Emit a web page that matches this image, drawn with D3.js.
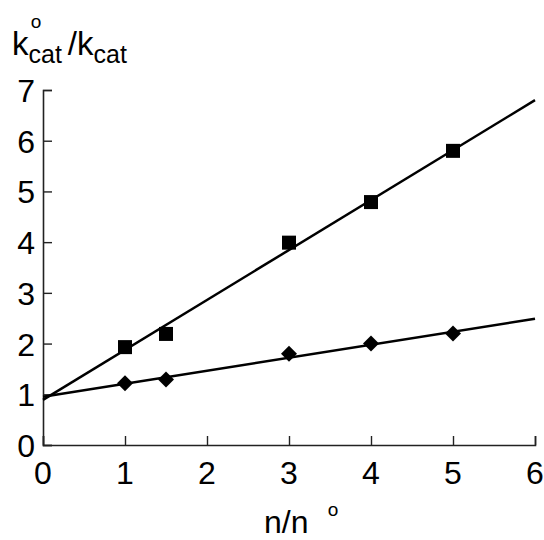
<!DOCTYPE html>
<html>
<head>
<meta charset="utf-8">
<script src="https://cdn.jsdelivr.net/npm/d3@7"></script>
<style>
  body { margin: 0; background: #fff; }
  svg text { font-family: "Liberation Sans", Arial, sans-serif; fill: #000; }
</style>
</head>
<body>
<div id="chart"></div>
<script>
// data
const xTicks = [0, 1, 2, 3, 4, 5, 6];
const yTicks = [0, 1, 2, 3, 4, 5, 6, 7];

const squareX = [1, 1.5, 3, 4, 5];
const squareY = [1.93, 2.19, 3.99, 4.79, 5.8];
const diamondX = [1, 1.5, 3, 4, 5];
const diamondY = [1.22, 1.29, 1.8, 2.0, 2.2];

// fitted lines, endpoints at x = 0 and x = 6
const fitX = [0, 6];
const squareFitY = [0.89, 6.8];
const diamondFitY = [0.95, 2.49];

const width = 544;
const height = 540;
const margin = { left: 43, right: 9, top: 90, bottom: 95 };

const svg = d3.select('#chart')
  .append('svg')
  .attr('width', width)
  .attr('height', height);

const x = d3.scaleLinear().domain([0, 6]).range([margin.left, width - margin.right]);
const y = d3.scaleLinear().domain([0, 7]).range([height - margin.bottom, margin.top]);

// axes, ticks pointing inward
const xAxis = svg.append('g')
  .attr('transform', `translate(0,${y(0)})`)
  .call(d3.axisTop(x).tickValues(xTicks).tickSize(9).tickFormat(''));
const yAxis = svg.append('g')
  .attr('transform', `translate(${x(0)},0)`)
  .call(d3.axisRight(y).tickValues(yTicks).tickSize(9).tickFormat(''));

[xAxis, yAxis].forEach(g => {
  g.select('.domain').attr('stroke', '#222').attr('stroke-width', 1.6);
  g.selectAll('.tick line').attr('stroke', '#222').attr('stroke-width', 1.4);
});

// tick labels
svg.selectAll('.xlab')
  .data(xTicks)
  .enter().append('text')
  .attr('x', d => x(d))
  .attr('y', y(0) + 39)
  .attr('text-anchor', 'middle')
  .style('font-size', '32px')
  .text(d => d);

svg.selectAll('.ylab')
  .data(yTicks)
  .enter().append('text')
  .attr('x', x(0) - 8)
  .attr('y', d => y(d) + 12)
  .attr('text-anchor', 'end')
  .style('font-size', '32px')
  .text(d => d);

// fit lines
const line = d3.line().x(d => x(d[0])).y(d => y(d[1]));
svg.append('path')
  .datum(d3.zip(fitX, squareFitY))
  .attr('d', line)
  .attr('fill', 'none')
  .attr('stroke', '#000')
  .attr('stroke-width', 2.5);
svg.append('path')
  .datum(d3.zip(fitX, diamondFitY))
  .attr('d', line)
  .attr('fill', 'none')
  .attr('stroke', '#000')
  .attr('stroke-width', 2.5);

// markers
const sq = 14;
svg.selectAll('.sq')
  .data(d3.zip(squareX, squareY))
  .enter().append('rect')
  .attr('x', d => x(d[0]) - sq / 2)
  .attr('y', d => y(d[1]) - sq / 2)
  .attr('width', sq)
  .attr('height', sq)
  .attr('fill', '#000');

svg.selectAll('.dm')
  .data(d3.zip(diamondX, diamondY))
  .enter().append('path')
  .attr('transform', d => `translate(${x(d[0])},${y(d[1])})`)
  .attr('d', 'M0,-8 L8,0 L0,8 L-8,0 Z')
  .attr('fill', '#000');

// y axis title: k°cat / kcat
const yt = svg.append('text')
  .attr('x', 12)
  .attr('y', 55)
  .style('font-size', '33px');
yt.append('tspan').text('k');
yt.append('tspan').attr('dy', 8).style('font-size', '25px').text('cat');
yt.append('tspan').attr('dy', -8).attr('dx', 6).text('/k');
yt.append('tspan').attr('dy', 8).style('font-size', '25px').text('cat');

svg.append('text')
  .attr('x', 36)
  .attr('y', 28)
  .attr('text-anchor', 'middle')
  .style('font-size', '19px')
  .text('o');

// x axis title: n/n°
svg.append('text')
  .attr('x', 264)
  .attr('y', 533)
  .style('font-size', '32px')
  .text('n/n');
svg.append('text')
  .attr('x', 333)
  .attr('y', 516)
  .attr('text-anchor', 'middle')
  .style('font-size', '19px')
  .text('o');
</script>
</body>
</html>
